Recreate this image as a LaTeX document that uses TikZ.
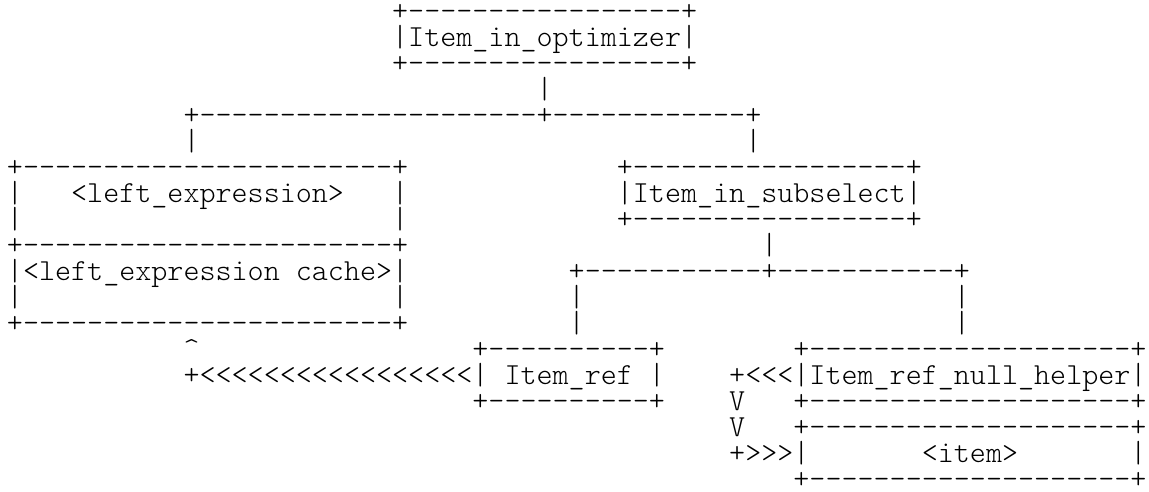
\documentclass[tikz,border=0pt]{standalone}
\usepackage{fontspec}
\setmonofont{lmmonolt10-regular.otf}
\newlength\cw
\setlength\cw{16.05pt}
\newcommand\sk[1]{\hspace*{#1\cw}}
\tikzset{
  asciirow/.style={anchor=base west, inner sep=0pt, outer sep=0pt,
    font=\ttfamily\fontsize{30.571pt}{26pt}\selectfont, text=black}
}
\begin{document}
\begin{tikzpicture}[x=1pt,y=-1pt]
\fill[white] (0,0) rectangle (1149,491);
\useasboundingbox (0,0) rectangle (1149,491);
\node[asciirow] (r0)  at (6.975, 20.6) {\sk{24}+-----------------+};
\node[asciirow] (r1)  at (6.975, 46.6) {\sk{24}|Item\_in\_optimizer|};
\node[asciirow] (r2)  at (6.975, 72.6) {\sk{24}+-----------------+};
\node[asciirow] (r3)  at (6.975, 98.6) {\sk{33}|};
\node[asciirow] (r4)  at (6.975,124.6) {\sk{11}+---------------------+------------+};
\node[asciirow] (r5)  at (6.975,150.6) {\sk{11}|\sk{34}|};
\node[asciirow] (r6)  at (6.975,176.6) {+-----------------------+\sk{13}+-----------------+};
\node[asciirow] (r7)  at (6.975,202.6) {|\sk{3}<left\_expression>\sk{3}|\sk{13}|Item\_in\_subselect|};
\node[asciirow] (r8)  at (6.975,228.6) {|\sk{23}|\sk{13}+-----------------+};
\node[asciirow] (r9)  at (6.975,254.6) {+-----------------------+\sk{22}|};
\node[asciirow] (r10) at (6.975,280.6) {|<left\_expression\sk{1}cache>|\sk{10}+-----------+-----------+};
\node[asciirow] (r11) at (6.975,306.6) {|\sk{23}|\sk{10}|\sk{23}|};
\node[asciirow] (r12) at (6.975,332.6) {+-----------------------+\sk{10}|\sk{23}|};
\node[asciirow] (r13) at (6.975,358.6) {\sk{11}\textasciicircum\sk{17}+----------+\sk{8}+--------------------+};
\node[asciirow] (r14) at (6.975,384.6) {\sk{11}+<<<<<<<<<<<<<<<<<|\sk{1}Item\_ref\sk{1}|\sk{4}+<<<|Item\_ref\_null\_helper|};
\node[asciirow] (r15) at (6.975,410.6) {\sk{29}+----------+\sk{4}V\sk{3}+--------------------+};
\node[asciirow] (r16) at (6.975,436.6) {\sk{45}V\sk{3}+--------------------+};
\node[asciirow] (r17) at (6.975,462.6) {\sk{45}+>>>|\sk{7}<item>\sk{7}|};
\node[asciirow] (r18) at (6.975,488.6) {\sk{49}+--------------------+};
\end{tikzpicture}
\end{document}
